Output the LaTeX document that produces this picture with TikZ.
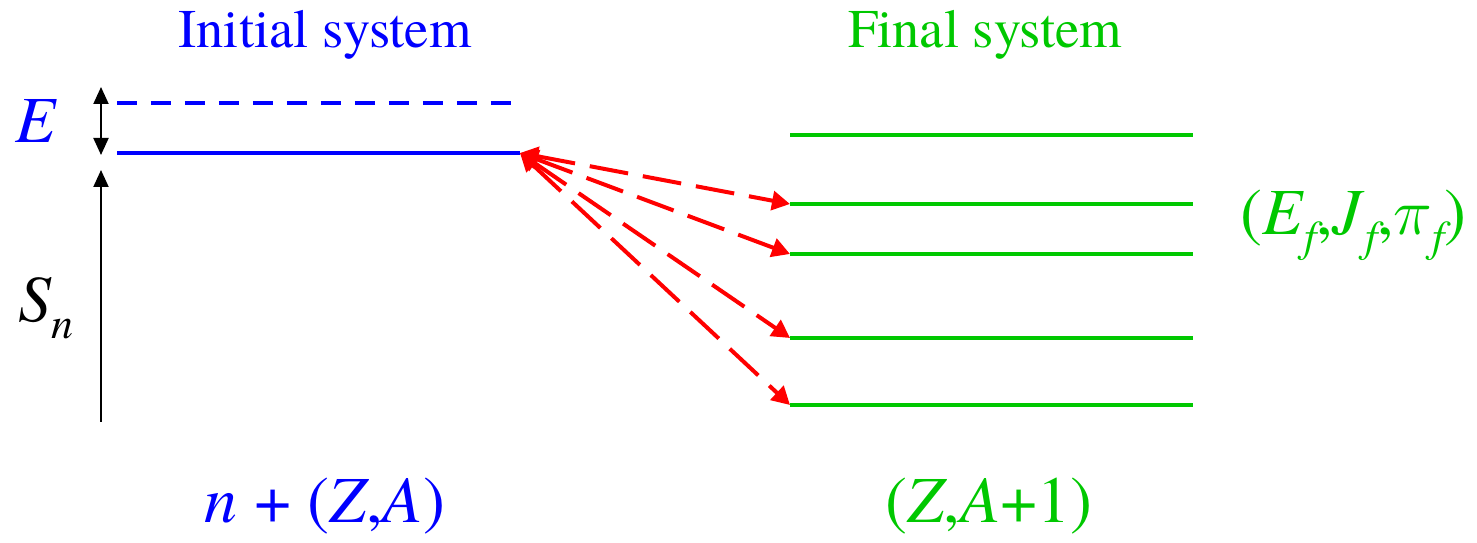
\documentclass[tikz,border=0pt]{standalone}
\usepackage{fontspec}
\IfFontExistsTF{texgyretermes-regular.otf}{%
	\setmainfont{texgyretermes}[Extension=.otf, UprightFont=*-regular, ItalicFont=*-italic,
		BoldFont=*-bold, BoldItalicFont=*-bolditalic]}{%
	\setmainfont{Liberation Serif}}
\usepackage{tikz}
\usetikzlibrary{arrows.meta}
\IfFontExistsTF{texgyretermes-math.otf}{%
	\newfontfamily\grfont{texgyretermes-math.otf}
	\newcommand{\pisym}{{\grfont 𝜋}}}{%
	\newcommand{\pisym}{\scalebox{1.5}{$\pi$}}}
\definecolor{initColor}{HTML}{0000FF}
\definecolor{finalColor}{HTML}{00C800}
\definecolor{transColor}{HTML}{FF0000}
\newcommand{\lsub}[1]{\raisebox{-0.25em}{\fontsize{25}{25}\selectfont\itshape #1}}

\begin{document}
\begin{tikzpicture}[x=0.02cm, y=-0.02cm]
			\tikzset{
				titulo/.style={font=\fontsize{31}{36}\selectfont, inner sep=0pt, anchor=base},
				rotulo/.style={font=\fontsize{37.5}{44}\selectfont, inner sep=0pt, anchor=base},
				nivelIni/.style={line width=0.09cm, initColor},
				nivelFin/.style={line width=0.08cm, finalColor},
				escala/.style={line width=0.04cm, black, {Triangle[length=0.34cm, width=0.3cm]}-{Triangle[length=0.34cm, width=0.3cm]}},
				transicao/.style={line width=0.08cm, transColor, dash pattern=on 0.78cm off 0.3cm,
					{Triangle[length=0.36cm, width=0.38cm]}-{Triangle[length=0.36cm, width=0.38cm]}}
			}
			\useasboundingbox (0,0) rectangle (1477,543);
			% titles
			\node[titulo, text=initColor] (tIni) at (325,48) {Initial system};
			\node[titulo, text=finalColor] (tFin) at (985,48) {Final system};
			% initial system levels
			\coordinate (vA) at (117,103);
			\coordinate (vB) at (515,103);
			\coordinate (gA) at (117,153);
			\coordinate (gB) at (520,153);
			\draw[nivelIni, dash pattern=on 0.4cm off 0.28cm] (vA) -- (vB);
			\draw[nivelIni] (gA) -- (gB);
			% energy scales
			\coordinate (eTop) at (101,87);
			\coordinate (eBot) at (101,155);
			\coordinate (sTop) at (101,170);
			\coordinate (sBot) at (101,422);
			\draw[escala] (eTop) -- (eBot);
			\draw[escala, {-Triangle[length=0.34cm, width=0.3cm]}] (sBot) -- (sTop);
			\node[rotulo, text=initColor] (lE) at (36,143) {\itshape E};
			\node[rotulo, anchor=base west] (lS) at (18,322) {\itshape S\lsub{n}};
			% final system levels
			\coordinate (f1A) at (790,135);  \coordinate (f1B) at (1193,135);
			\coordinate (f2A) at (790,204);  \coordinate (f2B) at (1193,204);
			\coordinate (f3A) at (790,254);  \coordinate (f3B) at (1193,254);
			\coordinate (f4A) at (790,338);  \coordinate (f4B) at (1193,338);
			\coordinate (f5A) at (790,405);  \coordinate (f5B) at (1193,405);
			\draw[nivelFin] (f1A) -- (f1B);
			\draw[nivelFin] (f2A) -- (f2B);
			\draw[nivelFin] (f3A) -- (f3B);
			\draw[nivelFin] (f4A) -- (f4B);
			\draw[nivelFin] (f5A) -- (f5B);
			\node[rotulo, anchor=base west, text=finalColor] (lF) at (1240,235)
				{(\textit{E}\lsub{f},\textit{J}\lsub{f},\pisym\lsub{f})};
			% transitions
			\draw[transicao] (gB) -- (f2A);
			\draw[transicao] (gB) -- (f3A);
			\draw[transicao] (gB) -- (f4A);
			\draw[transicao] (gB) -- (f5A);
			% nuclei
			\node[rotulo, text=initColor] (nIni) at (325,522) {\textit{n} + (\textit{Z},\textit{A})};
			\node[rotulo, text=finalColor] (nFin) at (989,522) {(\textit{Z},\textit{A}+1)};
		\end{tikzpicture}
\end{document}
